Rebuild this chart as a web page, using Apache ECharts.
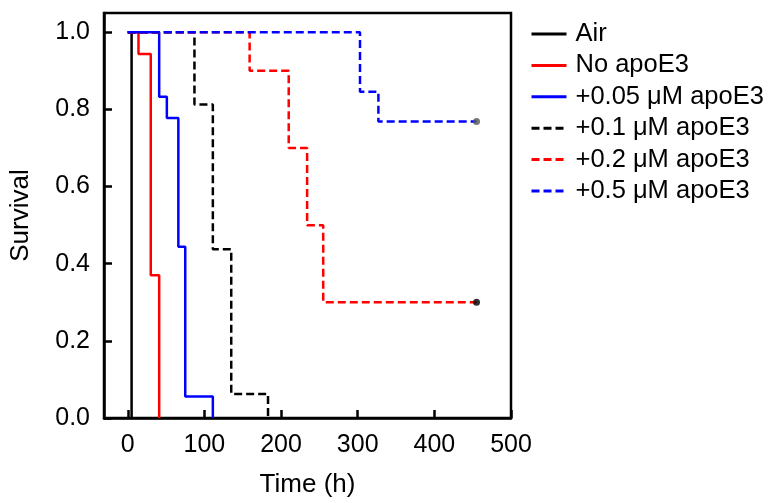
<!DOCTYPE html>
<html>
<head>
<meta charset="utf-8">
<script src="https://cdn.jsdelivr.net/npm/echarts@6/dist/echarts.min.js"></script>
<style>
  html, body { margin: 0; padding: 0; background: #fff; }
  #chart { width: 771px; height: 503px; }
</style>
</head>
<body>
<div id="chart"></div>
<script>
// Kaplan–Meier survival curves (time in hours, fraction surviving)
const airTime = [0, 5];
const airSurv = [1, 0];
const noApoTime = [0, 14, 30, 41];
const noApoSurv = [1, 0.944, 0.37, 0];
const apo005Time = [0, 41, 51, 66, 75, 111];
const apo005Surv = [1, 0.833, 0.778, 0.444, 0.056, 0];
const apo01Time = [0, 87, 111, 135, 183];
const apo01Surv = [1, 0.8125, 0.4375, 0.0625, 0];
const apo02Time = [0, 159, 210, 234, 255, 455];
const apo02Surv = [1, 0.9, 0.7, 0.5, 0.3, 0.3];
const apo05Time = [0, 303, 327, 455];
const apo05Surv = [1, 0.846, 0.769, 0.769];

// censoring marks at the end of the two surviving groups
const censorTime = [455, 455];
const censorSurv = [0.3, 0.769];
const censorColor = ['#000000', '#555555'];

const seriesNames = ['Air', 'No apoE3', '+0.05 μM apoE3', '+0.1 μM apoE3', '+0.2 μM apoE3', '+0.5 μM apoE3'];
const xTicks = [0, 100, 200, 300, 400, 500];
const yTicks = [0, 0.2, 0.4, 0.6, 0.8, 1.0];

const FONT = '"Liberation Sans", Arial, sans-serif';
const DASH = [8, 4];

function pairs(t, s) { return t.map((v, i) => [v, s[i]]); }

function curve(name, t, s, color, dashed) {
  return {
    name: name,
    type: 'line',
    step: 'end',
    symbol: 'none',
    data: pairs(t, s),
    lineStyle: { color: color, width: 2.5, type: dashed ? DASH : 'solid' },
    itemStyle: { color: color },
    emphasis: { disabled: true },
    animation: false
  };
}

const chart = echarts.init(document.getElementById('chart'), null, { renderer: 'canvas' });
chart.setOption({
  backgroundColor: '#fff',
  animation: false,
  grid: {
    left: 102, right: 260, top: 13, bottom: 81,
    show: true, borderColor: '#000', borderWidth: 2.5, backgroundColor: 'transparent'
  },
  legend: {
    data: seriesNames,
    orient: 'vertical',
    left: 530, top: 21,
    padding: 0,
    itemWidth: 35, itemHeight: 14, itemGap: 5.4,
    itemStyle: { opacity: 0, borderWidth: 0 },
    lineStyle: { width: 3 },
    textStyle: { fontFamily: FONT, fontSize: 25.5, color: '#000', lineHeight: 25, padding: [0, 0, 0, 4] }
  },
  xAxis: {
    type: 'value',
    min: -31, max: 500,
    name: 'Time (h)',
    nameLocation: 'middle',
    nameGap: 54,
    nameTextStyle: { fontFamily: FONT, fontSize: 26, color: '#000' },
    axisLine: { show: true, onZero: false, lineStyle: { color: '#000', width: 2.5 } },
    axisTick: { show: true, inside: true, length: 8, lineStyle: { color: '#000', width: 2.5 }, customValues: xTicks },
    axisLabel: { fontFamily: FONT, fontSize: 25, color: '#000', margin: 15, customValues: xTicks, showMinLabel: true, showMaxLabel: true },
    splitLine: { show: false }
  },
  yAxis: {
    type: 'value',
    min: 0, max: 1.05,
    name: 'Survival',
    nameLocation: 'middle',
    nameGap: 70,
    nameRotate: 90,
    nameTextStyle: { fontFamily: FONT, fontSize: 26, color: '#000' },
    axisLine: { show: true, onZero: false, lineStyle: { color: '#000', width: 2.5 } },
    axisTick: { show: true, inside: true, length: 8, lineStyle: { color: '#000', width: 2.5 }, customValues: yTicks },
    axisLabel: { fontFamily: FONT, fontSize: 25, color: '#000', margin: 14, customValues: yTicks, formatter: v => v.toFixed(1) },
    splitLine: { show: false }
  },
  series: [
    curve(seriesNames[0], airTime, airSurv, '#000000', false),
    curve(seriesNames[1], noApoTime, noApoSurv, '#ff0000', false),
    curve(seriesNames[2], apo005Time, apo005Surv, '#0000ff', false),
    curve(seriesNames[3], apo01Time, apo01Surv, '#000000', true),
    curve(seriesNames[4], apo02Time, apo02Surv, '#ff0000', true),
    curve(seriesNames[5], apo05Time, apo05Surv, '#0000ff', true),
    {
      name: 'censored',
      type: 'scatter',
      symbol: 'circle',
      symbolSize: 7,
      data: censorTime.map((t, i) => ({ value: [t, censorSurv[i]], itemStyle: { color: censorColor[i] } })),
      emphasis: { disabled: true },
      z: 5,
      animation: false
    }
  ]
});
</script>
</body>
</html>
